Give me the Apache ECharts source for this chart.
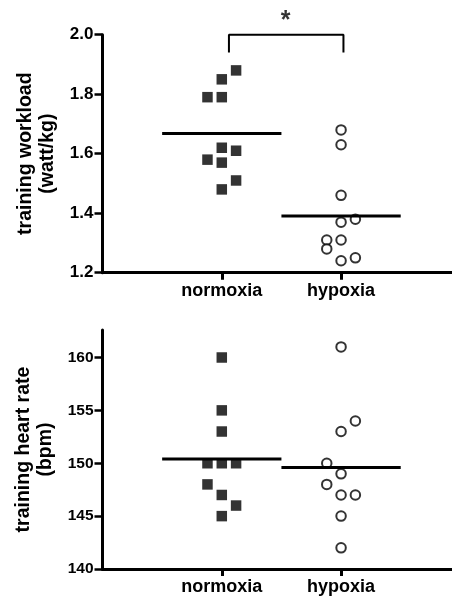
<!DOCTYPE html>
<html>
<head>
<meta charset="utf-8">
<script src="https://cdn.jsdelivr.net/npm/echarts@6/dist/echarts.min.js"></script>
<style>
html,body{margin:0;padding:0;background:#fff;}
#chart{width:452px;height:596px;}
</style>
</head>
<body>
<div id="chart"></div>
<script>
// ---- data ----
const categories = ['normoxia', 'hypoxia'];
const workloadTicks = [1.2, 1.4, 1.6, 1.8, 2.0];
const heartRateTicks = [140, 145, 150, 155, 160];

const normoxiaWorkload    = [1.88, 1.85, 1.79, 1.79, 1.62, 1.61, 1.58, 1.57, 1.51, 1.48];
const normoxiaWorkloadCol = [1, 0, -1, 0, 0, 1, -1, 0, 1, 0];
const hypoxiaWorkload     = [1.68, 1.63, 1.46, 1.38, 1.37, 1.31, 1.31, 1.28, 1.25, 1.24];
const hypoxiaWorkloadCol  = [0, 0, 0, 1, 0, -1, 0, -1, 1, 0];

const normoxiaHeartRate    = [160, 155, 153, 150, 150, 150, 148, 147, 146, 145];
const normoxiaHeartRateCol = [0, 0, 0, -1, 0, 1, -1, 0, 1, 0];
const hypoxiaHeartRate     = [161, 154, 153, 150, 149, 148, 147, 147, 145, 142];
const hypoxiaHeartRateCol  = [0, 1, 0, -1, 0, -1, 0, 1, 0, 0];

const significanceLabel = '*';

// ---- helpers ----
const FONT = '"Liberation Sans", Arial, sans-serif';
const COL_STEP = 0.12;
const mean = a => a.reduce((s, v) => s + v, 0) / a.length;
const pts = (vals, cols, catIdx) => vals.map((v, i) => [catIdx + 1 + cols[i] * COL_STEP, v]);
const meanLine = (vals, catIdx) => [[catIdx + 0.5, mean(vals)], [catIdx + 1.5, mean(vals)]];

function xAxisFor(gi) {
  return {
    type: 'value', gridIndex: gi, min: 0, max: 2.93,
    axisLine: {show: true, onZero: false, lineStyle: {color: '#000', width: 3}},
    axisTick: {show: true, length: 7, customValues: [1, 2], lineStyle: {color: '#000', width: 3}},
    axisLabel: {show: true, customValues: [1, 2], margin: 9,
      formatter: v => categories[Math.round(v) - 1] || '',
      color: '#000', fontFamily: FONT, fontWeight: 'bold', fontSize: 18},
    splitLine: {show: false}
  };
}
function yAxisFor(gi, min, max, ticks, name, fs, fmt) {
  return {
    type: 'value', gridIndex: gi, min: min, max: max,
    name: name, nameLocation: 'middle', nameRotate: 90, nameGap: 43,
    nameTextStyle: {color: '#000', fontFamily: FONT, fontWeight: 'bold', fontSize: 19.5, lineHeight: 22},
    axisLine: {show: true, lineStyle: {color: '#000', width: 3}},
    axisTick: {show: true, length: 8, customValues: ticks, lineStyle: {color: '#000', width: 2.5}},
    axisLabel: {show: true, customValues: ticks, margin: 9, formatter: fmt,
      color: '#000', fontFamily: FONT, fontWeight: 'bold', fontSize: fs},
    splitLine: {show: false}
  };
}
const squareSeries = (data, gi) => ({
  type: 'scatter', xAxisIndex: gi, yAxisIndex: gi, data: data, clip: false,
  symbol: 'rect', symbolSize: 10.5, itemStyle: {color: '#000'}, silent: true
});
const circleSeries = (data, gi) => ({
  type: 'scatter', xAxisIndex: gi, yAxisIndex: gi, data: data, clip: false,
  symbol: 'circle', symbolSize: 9.5, itemStyle: {color: '#fff', borderColor: '#000', borderWidth: 2}, silent: true
});
const lineSeries = (data, gi, w) => ({
  type: 'line', xAxisIndex: gi, yAxisIndex: gi, data: data, clip: false,
  symbol: 'none', lineStyle: {color: '#000', width: w}, silent: true, z: 3
});

const bracketTop = workloadTicks[workloadTicks.length - 1];
const option = {
  animation: false,
  backgroundColor: '#fff',
  grid: [
    {left: 102.5, top: 34.7, width: 350, height: 238},
    {left: 102.5, top: 330, width: 350, height: 239.3}
  ],
  xAxis: [xAxisFor(0), xAxisFor(1)],
  yAxis: [
    yAxisFor(0, 1.2, 2.0, workloadTicks, 'training workload\n(watt/kg)', 17, v => v.toFixed(1)),
    yAxisFor(1, 140, 162.6, heartRateTicks, 'training heart rate\n(bpm)', 15.5, v => String(v))
  ],
  series: [
    squareSeries(pts(normoxiaWorkload, normoxiaWorkloadCol, 0), 0),
    circleSeries(pts(hypoxiaWorkload, hypoxiaWorkloadCol, 1), 0),
    lineSeries(meanLine(normoxiaWorkload, 0), 0, 3),
    lineSeries(meanLine(hypoxiaWorkload, 1), 0, 3),
    lineSeries([[1.06, bracketTop - 0.06], [1.06, bracketTop], [2.02, bracketTop], [2.02, bracketTop - 0.06]], 0, 2),
    {
      type: 'scatter', xAxisIndex: 0, yAxisIndex: 0, clip: false, silent: true,
      data: [[1.535, bracketTop + 0.045]], symbolSize: 1, itemStyle: {color: 'rgba(0,0,0,0)'},
      label: {show: true, position: 'inside', formatter: significanceLabel, color: '#000',
        fontFamily: FONT, fontWeight: 'bold', fontSize: 25}
    },
    squareSeries(pts(normoxiaHeartRate, normoxiaHeartRateCol, 0), 1),
    circleSeries(pts(hypoxiaHeartRate, hypoxiaHeartRateCol, 1), 1),
    lineSeries(meanLine(normoxiaHeartRate, 0), 1, 3),
    lineSeries(meanLine(hypoxiaHeartRate, 1), 1, 3)
  ]
};
const chart = echarts.init(document.getElementById('chart'), null, {renderer: 'canvas'});
chart.setOption(option);
</script>
</body>
</html>
